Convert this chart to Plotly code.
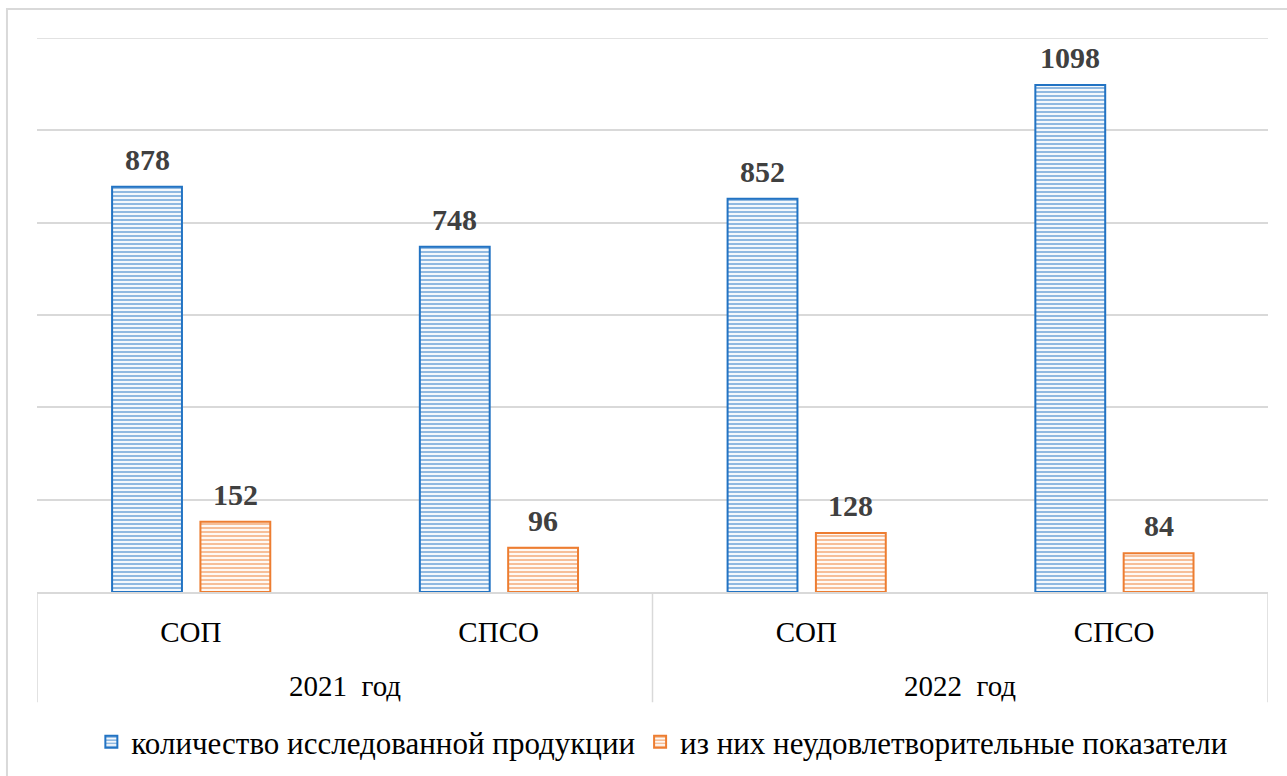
import plotly.graph_objects as go

# Data
years = ["2021 год", "2022 год"]
categories = ["СОП", "СПСО", "СОП", "СПСО"]
series_names = ["количество исследованной продукции", "из них неудовлетворительные показатели"]
total_values = [878, 748, 852, 1098]
failed_values = [152, 96, 128, 84]

BLUE = "#2273C3"
ORANGE = "#ED7D31"
GRID = "#D9D9D9"
FONT = "Liberation Serif"

x_pos = list(range(len(categories)))
bar_width = 0.227
offsets = [-0.256, 0.031]
colors = [BLUE, ORANGE]
series_values = [total_values, failed_values]

fig = go.Figure()
for name, vals, col, off in zip(series_names, series_values, colors, offsets):
    fig.add_trace(go.Bar(
        x=x_pos, y=vals, name=name,
        width=bar_width, offset=off,
        marker=dict(
            color="white",
            line=dict(color=col, width=2),
            pattern=dict(shape="-", fgcolor=col, bgcolor="white", size=4, solidity=0.55),
        ),
    ))
    # value labels above each bar
    for xi, v in zip(x_pos, vals):
        fig.add_annotation(
            x=xi + off + bar_width / 2, y=v, xref="x", yref="y",
            text=f"<b>{v}</b>", showarrow=False, yanchor="bottom", yshift=9,
            font=dict(family=FONT, size=30, color="#404040"),
        )

# year group labels
for gi, yr in enumerate(years):
    fig.add_annotation(
        x=gi * 2 + 0.5, y=-0.17, xref="x", yref="paper",
        text=yr.replace(" ", "&nbsp;&nbsp;"), showarrow=False, yanchor="middle",
        font=dict(family=FONT, size=29, color="#000000"),
    )

# group dividers below the axis
for xd in [-0.5, 1.5, 3.5]:
    fig.add_shape(type="line", xref="x", yref="paper", x0=xd, x1=xd, y0=0, y1=-0.199,
                  line=dict(color=GRID, width=1.5))

# top gridline at the end of the value range
fig.add_shape(type="line", xref="paper", yref="y", x0=0, x1=1, y0=1200, y1=1200,
              line=dict(color=GRID, width=1.5), layer="below")

# chart border
fig.add_shape(type="rect", xref="paper", yref="paper", x0=-0.0244, x1=1.2, y0=-0.6, y1=1.0523,
              line=dict(color=GRID, width=2), layer="below")

fig.update_layout(
    width=1287, height=776,
    margin=dict(l=37, r=19, t=38, b=184, autoexpand=False),
    paper_bgcolor="white", plot_bgcolor="white",
    barmode="overlay",
    showlegend=True,
    font=dict(family=FONT),
    legend=dict(orientation="h", x=0.508, xanchor="center", y=-0.271, yanchor="middle",
                font=dict(family=FONT, size=31, color="#000000"), itemwidth=30),
    xaxis=dict(
        range=[-0.5, 3.5], tickmode="array", tickvals=x_pos, ticktext=categories,
        showgrid=False, showline=True, linecolor=GRID, linewidth=1.5,
        ticks="", ticklabelstandoff=13,
        tickfont=dict(family=FONT, size=29, color="#000000"), zeroline=False,
    ),
    yaxis=dict(
        range=[0, 1200], dtick=200, showticklabels=False, showgrid=True,
        gridcolor=GRID, gridwidth=1.5, zeroline=False, showline=False,
    ),
)

fig.write_html("out.html")
